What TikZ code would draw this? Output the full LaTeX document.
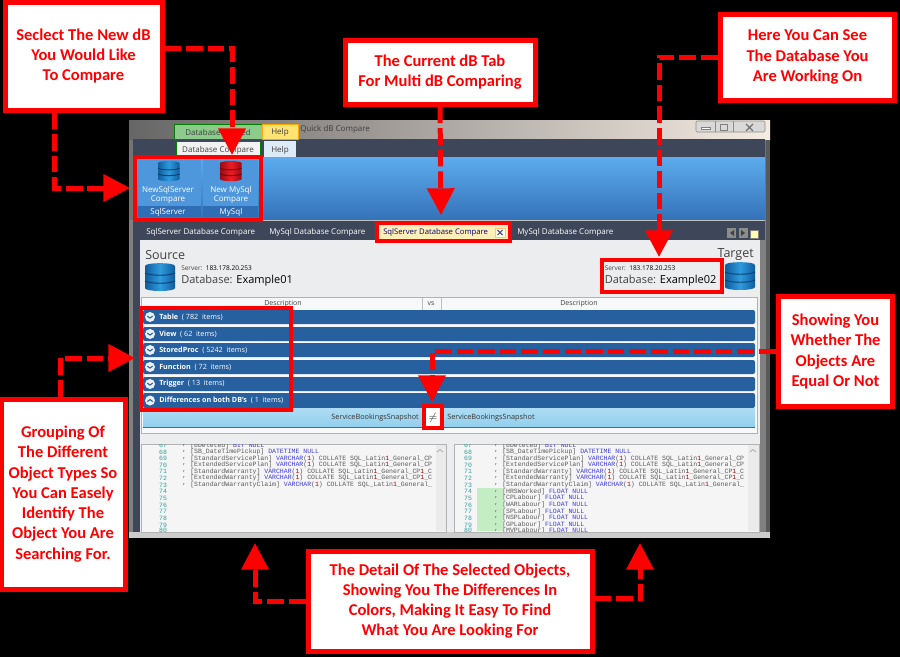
\documentclass[tikz,border=0pt]{standalone}
\usepackage{fontspec}
\setmainfont{Open Sans}
\setmonofont{Liberation Mono}
\newfontfamily\calfont{Carlito}
\usetikzlibrary{arrows.meta}
\newcommand{\pxf}[1]{\pgfmathsetmacro\pxs{#1*0.75}\pgfmathsetmacro\pxb{#1*0.9}\fontsize{\pxs pt}{\pxb pt}\selectfont}
\definecolor{calred}{HTML}{FF0000}
\definecolor{slatebg}{HTML}{3E4759}
\definecolor{contentbg}{HTML}{ECEDEF}
\definecolor{rowblue}{HTML}{27609F}
\definecolor{kwblue}{HTML}{3B3BE0}
\definecolor{idgrey}{HTML}{5A5A5A}
\definecolor{numteal}{HTML}{2E9E9E}
\definecolor{ribtop}{HTML}{5DABEE}
\definecolor{ribbot}{HTML}{3472B8}
\definecolor{grpbar}{HTML}{2F6DB5}
\definecolor{grplight}{HTML}{4F97DC}
\definecolor{snaptop}{HTML}{AEDCF3}
\definecolor{snapbot}{HTML}{92CFEE}
\definecolor{snapline}{HTML}{2F70AC}
\definecolor{dbdark}{HTML}{0F5C9E}
\definecolor{dblight}{HTML}{2E9BDD}
\definecolor{reddark}{HTML}{9A0A14}
\definecolor{redlight}{HTML}{EE1C25}
\definecolor{difgreen}{HTML}{C4EDC4}
\definecolor{helpblue}{HTML}{DDEBF7}
\definecolor{seltab}{HTML}{FFEFB8}
\newcommand{\kw}[1]{\textcolor{kwblue}{#1}}
\newcommand{\rd}[1]{\textcolor{red!70!black}{#1}}
\newcommand{\vch}{\kw{VARCHAR}(\rd{1}) COLLATE SQL\_Latin\rd{1}\_General\_}
\newcommand{\dbicon}[5]{%
\begin{scope}[shift={(#1,#2)},scale=#3]
\path[left color=#4,right color=#4,middle color=#5] (0,3) .. controls (0,-0.8) and (30,-0.8) .. (30,3) -- (30,25) .. controls (30,29) and (0,29) .. (0,25) -- cycle;
\draw[#4!70!black,line width=0.7pt] (0,10) .. controls (5,13) and (25,13) .. (30,10);
\draw[#4!70!black,line width=0.7pt] (0,18) .. controls (5,21) and (25,21) .. (30,18);
\end{scope}}
\tikzset{
  callout/.style={draw=calred,line width=3.75pt,fill=white,text=calred,align=center,inner sep=0pt,
    font=\calfont\bfseries\fontsize{12.4pt}{15.2pt}\selectfont},
  link/.style={draw=calred,line width=3.75pt,dash pattern=on 12.5pt off 3.7pt,
    -{Triangle[length=20pt,width=20pt]}},
  redbox/.style={draw=calred,line width=3pt},
  ui/.style={inner sep=0pt,text=#1,font=\pxf{8}},
  ui/.default=black!75,
  code/.style={anchor=west,inner sep=0pt,text=idgrey,font=\ttfamily\pxf{6.5}},
  num/.style={inner sep=0pt,text=numteal,font=\ttfamily\pxf{6.5}},
  rowtxt/.style={anchor=west,inner sep=0pt,text=white,font=\pxf{7.2}},
  chev/.style={draw=rowblue,line width=0.8pt},
}
\begin{document}
\begin{tikzpicture}[x=0.75pt,y=-0.75pt]
\useasboundingbox (0,0) rectangle (900,657);
\fill[black] (0,0) rectangle (900,657);
% window frame
\fill[black!50] (129,120) rectangle (770,538);
\shade[left color=black!60,middle color=brown!45!white!80!black,right color=white!85!brown] (129,120) rectangle (770,140);
\fill[black!55] (129,140) rectangle (770,220);
\fill[black!20] (129,532) rectangle (770,538);
\fill[black!65] (766,140) rectangle (770,532);
\fill[slatebg] (133,139) rectangle (765,157);
% title tabs
\fill[green!55!black!45!white,draw=green!50!black] (174,124) rectangle (262,139);
\fill[orange!40!yellow!55!white,draw=orange!70!yellow] (262,124) rectangle (298,139);
\node[ui] (tabrel) at (218,132) {Database Related};
\node[ui] (helpa) at (280,132) {Help};
\node[ui,anchor=west] (title) at (300,129) {Quick dB Compare};
\fill[white!90!gray,draw=green!50!black] (176,141) rectangle (260,157);
\fill[helpblue] (264,141) rectangle (296,157);
\node[ui] (tabcmp) at (218,150) {Database Compare};
\node[ui] (helpb) at (280,150) {Help};
% window buttons
\draw[black!45,fill=black!15,rounded corners=1pt] (696,121) rectangle (765,132);
\draw[black!45] (715,121) -- (715,132) (733,121) -- (733,132);
\draw[black!50,fill=white,line width=0.5pt] (701,127.5) rectangle (710,129);
\draw[black!50,line width=0.6pt] (720,124) rectangle (727,130);
\draw[black!55,line width=1pt] (746,124) -- (753,131) (753,124) -- (746,131);
% ribbon
\shade[top color=ribtop,bottom color=ribbot] (133,157) rectangle (765,220);
\draw[black!25] (133,220) -- (765,220);
\fill[grplight] (138,158) rectangle (201,206);
\fill[grplight] (203,158) rectangle (258,206);
\fill[grpbar] (138,206) rectangle (201,217);
\fill[grpbar] (203,206) rectangle (258,217);
\dbicon{158}{161}{0.72}{dbdark}{dblight}
\dbicon{220}{161}{0.72}{reddark}{redlight}
\node[ui=white,align=center] (nsql) at (168,195) {NewSqlServer\\Compare};
\node[ui=white,align=center] (nmy) at (231,195) {New MySql\\Compare};
\node[ui=white] (gsql) at (168,212) {SqlServer};
\node[ui=white] (gmy) at (231,212) {MySql};
% tab row
\fill[slatebg] (133,220.5) rectangle (765,240);
\fill[slatebg] (133,240) rectangle (140,532);
\fill[black!50] (760,240) rectangle (766,532);
\node[ui=white,anchor=west] (ta) at (146,232) {SqlServer Database Compare};
\node[ui=white,anchor=west] (tb) at (269,232) {MySql Database Compare};
\node[ui=white,anchor=west] (tc) at (517,232) {MySql Database Compare};
\fill[black!45] (727,228) rectangle (736,238);
\fill[black!45] (739,228) rectangle (748,238);
\fill[black!75] (730,233) -- (734,230) -- (734,236) -- cycle;
\fill[black!75] (745,233) -- (741,230) -- (741,236) -- cycle;
\fill[yellow!30!white,draw=black!50] (750.5,230) rectangle (758,238);
% content
\fill[contentbg] (140,240) rectangle (760,532);
\node[ui=black!75,anchor=west,font=\pxf{12.5}] (source) at (145,255) {Source};
\node[ui=black!75,anchor=east,font=\pxf{12.5}] (target) at (754,255) {Target};
\dbicon{145}{263}{1}{dbdark}{dblight}
\dbicon{725}{262}{1}{dbdark}{dblight}
\node[ui,anchor=west,font=\pxf{6.5}] (sv1) at (181,268) {Server:\ \ \textcolor{black}{183.178.20.253}};
\node[ui,anchor=west,font=\pxf{11}] (db1) at (181,281) {Database: \textcolor{black}{Example01}};
\node[ui,anchor=west,font=\pxf{6.5}] (sv2) at (604.5,268) {Server:\ \ \textcolor{black}{183.178.20.253}};
\node[ui,anchor=west,font=\pxf{11}] (db2) at (604.5,281) {Database: \textcolor{black}{Example02}};
% grid
\draw[black!30,fill=white!60!contentbg] (141,297) rectangle (757,433);
\draw[black!25] (422,298) -- (422,310) (441,298) -- (441,310);
\node[ui,font=\pxf{7}] (da) at (283,304) {Description};
\node[ui,font=\pxf{7}] (vs) at (431,304) {vs};
\node[ui,font=\pxf{7}] (db) at (579,304) {Description};
\foreach \ya/\yb in {310/324,327/341,343/357,360/374,377/391,393/408}{
  \fill[rowblue,rounded corners=1.5pt] (143,\ya) rectangle (755,\yb);
}
\foreach \k/\yy/\rname/\rcount in {a/317/Table/{( 782\ \ items)},b/334/View/{( 62\ \ items)},c/350/StoredProc/{( 5242\ \ items)},d/367/Function/{( 72\ \ items)},e/384/Trigger/{( 13\ \ items)},f/400.5/{Differences on both DB's}/{( 1\ \ items)}}{
  \node[rowtxt] (row\k) at (159,\yy) {\textbf{\rname}\ \ \rcount};
  \node[circle,fill=white!90!rowblue,minimum size=7.5pt,inner sep=0pt] (ball\k) at (150,\yy) {};
}
\foreach \k in {a,b,c,d,e}{
  \draw[chev] ([xshift=-2pt,yshift=0.7pt]ball\k.center) -- ([yshift=-0.8pt]ball\k.center) -- ([xshift=2pt,yshift=0.7pt]ball\k.center);
}
\draw[chev] ([xshift=-2pt,yshift=-0.8pt]ballf.center) -- ([yshift=0.7pt]ballf.center) -- ([xshift=2pt,yshift=-0.8pt]ballf.center);
\shade[top color=snaptop,bottom color=snapbot] (143,408) rectangle (755,427);
\draw[snapline,line width=0.8pt] (143,427.5) -- (755,427.5);
\node[ui=black!80,anchor=east,font=\pxf{7.3}] (snapa) at (419,418) {ServiceBookingsSnapshot};
\node[ui=black!80,anchor=west,font=\pxf{7.3}] (snapb) at (447,418) {ServiceBookingsSnapshot};
\fill[white] (425,407) rectangle (441,427);
\node[inner sep=0pt,text=black!80,font=\pxf{11}] (neq) at (433,418) {$\neq$};
% editors
\draw[black!30,fill=black!4] (141,444) rectangle (446,532);
\draw[black!30,fill=black!4] (454,444) rectangle (759,532);
\fill[black!8] (436,445) rectangle (446,531);
\fill[black!8] (748,445) rectangle (759,531);
\draw[black!30,line width=0.7pt] (437,452) -- (440,449.5) -- (443,452);
\draw[black!30,line width=0.7pt] (750,452) -- (753,449.5) -- (756,452);
\begin{scope}
\clip (141,444.5) rectangle (435,531);
\foreach \n/\yy in {67/445.5,68/452,69/458.6,70/465,71/471.5,72/478,73/485,74/491.5,75/498,76/505,77/511.5,78/518,79/525,80/530.5}{
  \node[num] (nl\n) at (163,\yy) {\n};
}
\foreach \k/\yy in {a/445.5,b/452,c/458.6,d/465,e/471.5,f/478,g/485}{
  \node[code] (cl\k) at (182,\yy) {,};
}
\node[code] (la) at (190,445.5) {[bDeleted] \kw{BIT NULL}};
\node[code] (lb) at (190,452) {[SB\_DateTimePickup] \kw{DATETIME NULL}};
\node[code] (lc) at (190,458.6) {[StandardServicePlan] \vch CP};
\node[code] (ld) at (190,465) {[ExtendedServicePlan] \vch CP};
\node[code] (le) at (190,471.5) {[StandardWarranty] \vch CP\rd{1}\_C};
\node[code] (lf) at (190,478) {[ExtendedWarranty] \vch CP\rd{1}\_C};
\node[code] (lg) at (190,485) {[StandardWarrantyClaim] \vch};
\end{scope}
\begin{scope}
\fill[difgreen] (477,488) rectangle (503,531);
\clip (454,444.5) rectangle (747,531);
\foreach \n/\yy in {67/445.5,68/452,69/458.6,70/465,71/471.5,72/478,73/485,74/491.5,75/498,76/505,77/511.5,78/518,79/525,80/530.5}{
  \node[num] (nr\n) at (468,\yy) {\n};
}
\foreach \k/\yy in {a/445.5,b/452,c/458.6,d/465,e/471.5,f/478,g/485,h/491.5,i/498,j/505,k/511.5,l/518,m/525,n/530.5}{
  \node[code] (cr\k) at (494,\yy) {,};
}
\node[code] (ra) at (502,445.5) {[bDeleted] \kw{BIT NULL}};
\node[code] (rb) at (502,452) {[SB\_DateTimePickup] \kw{DATETIME NULL}};
\node[code] (rc) at (502,458.6) {[StandardServicePlan] \vch CP};
\node[code] (rd) at (502,465) {[ExtendedServicePlan] \vch CP};
\node[code] (re) at (502,471.5) {[StandardWarranty] \vch CP\rd{1}\_C};
\node[code] (rf) at (502,478) {[ExtendedWarranty] \vch CP\rd{1}\_C};
\node[code] (rg) at (502,485) {[StandardWarrantyClaim] \vch};
\node[code] (rh) at (502,491.5) {[HRSWorked] \kw{FLOAT NULL}};
\node[code] (ri) at (502,498) {[CPLabour] \kw{FLOAT NULL}};
\node[code] (rj) at (502,505) {[WARLabour] \kw{FLOAT NULL}};
\node[code] (rk) at (502,511.5) {[SPLabour] \kw{FLOAT NULL}};
\node[code] (rl) at (502,518) {[NSPLabour] \kw{FLOAT NULL}};
\node[code] (rm) at (502,525) {[GPLabour] \kw{FLOAT NULL}};
\node[code] (rn) at (502,530.5) {[MVPLabour] \kw{FLOAT NULL}};
\end{scope}
% selected tab
\fill[seltab] (377,222) rectangle (510,241);
\node[ui=blue!45!black,anchor=west,font=\pxf{7.7}] (tsel) at (383,232) {SqlServer Database Compare};
\draw[orange!50!white,fill=yellow!15!white,line width=0.4pt] (495,228) rectangle (505,237);
\draw[blue!50!black!70!white,line width=0.8pt] (497.5,230) -- (502.5,235) (502.5,230) -- (497.5,235);
% red highlight boxes
\node[redbox,minimum width=94pt,minimum height=47pt,inner sep=0pt] (grpbox) at (198,188.5) {};
\node[redbox,minimum width=100pt,minimum height=14pt,inner sep=0pt] (selbox) at (443.5,232) {};
\node[redbox,minimum width=90pt,minimum height=24pt,inner sep=0pt] (dbbox) at (662,276) {};
\node[redbox,minimum width=113pt,minimum height=76pt,inner sep=0pt] (rowsbox) at (216,359) {};
\node[redbox,minimum width=13.5pt,minimum height=17pt,inner sep=0pt] (neqbox) at (433,417) {};
% callouts
\node[callout,minimum width=117.75pt,minimum height=81pt] (c1) at (83.5,56) {Seclect The New dB\\You Would Like\\To Compare};
\node[callout,minimum width=142.5pt,minimum height=48pt] (c2) at (440,72) {The Current dB Tab\\For Multi dB Comparing};
\node[callout,minimum width=131pt,minimum height=64.5pt] (c3) at (807.5,57) {Here You Can See\\The Database You\\Are Working On};
\node[callout,minimum width=86pt,minimum height=83pt] (c4) at (835.5,351.5) {Showing You\\Whether The\\Objects Are\\Equal Or Not};
\node[callout,minimum width=93pt,minimum height=142.5pt] (c5) at (63,494) {Grouping Of\\The Different\\Object Types So\\You Can Easely\\Identify The\\Object You Are\\Searching For.};
\node[callout,minimum width=213pt,minimum height=75pt] (c6) at (450,601) {The Detail Of The Selected Objects,\\Showing You The Differences In\\Colors, Making It Easy To Find\\What You Are Looking For};
% connectors
\coordinate (tipa) at (232,155);
\coordinate (tipb) at (130,188);
\coordinate (tipc) at (441,215);
\coordinate (tipd) at (659,257);
\coordinate (tipe) at (432,402);
\coordinate (tipf) at (135,358);
\coordinate (tipg) at (255,543);
\coordinate (tiph) at (640,543);
\draw[link] ([yshift=6pt]c1.east) -| (tipa);
\draw[link] ([xshift=-21.4pt]c1.south) |- (tipb);
\draw[link] (c2.south) -- (tipc);
\draw[link] (c3.west) -| (tipd);
\draw[link] (c4.west) -| (tipe);
\draw[link] ([xshift=-2pt]c5.north) |- (tipf);
\draw[link] (c6.west) -| (tipg);
\draw[link] ([yshift=2pt]c6.east) -| (tiph);
\end{tikzpicture}
\end{document}
